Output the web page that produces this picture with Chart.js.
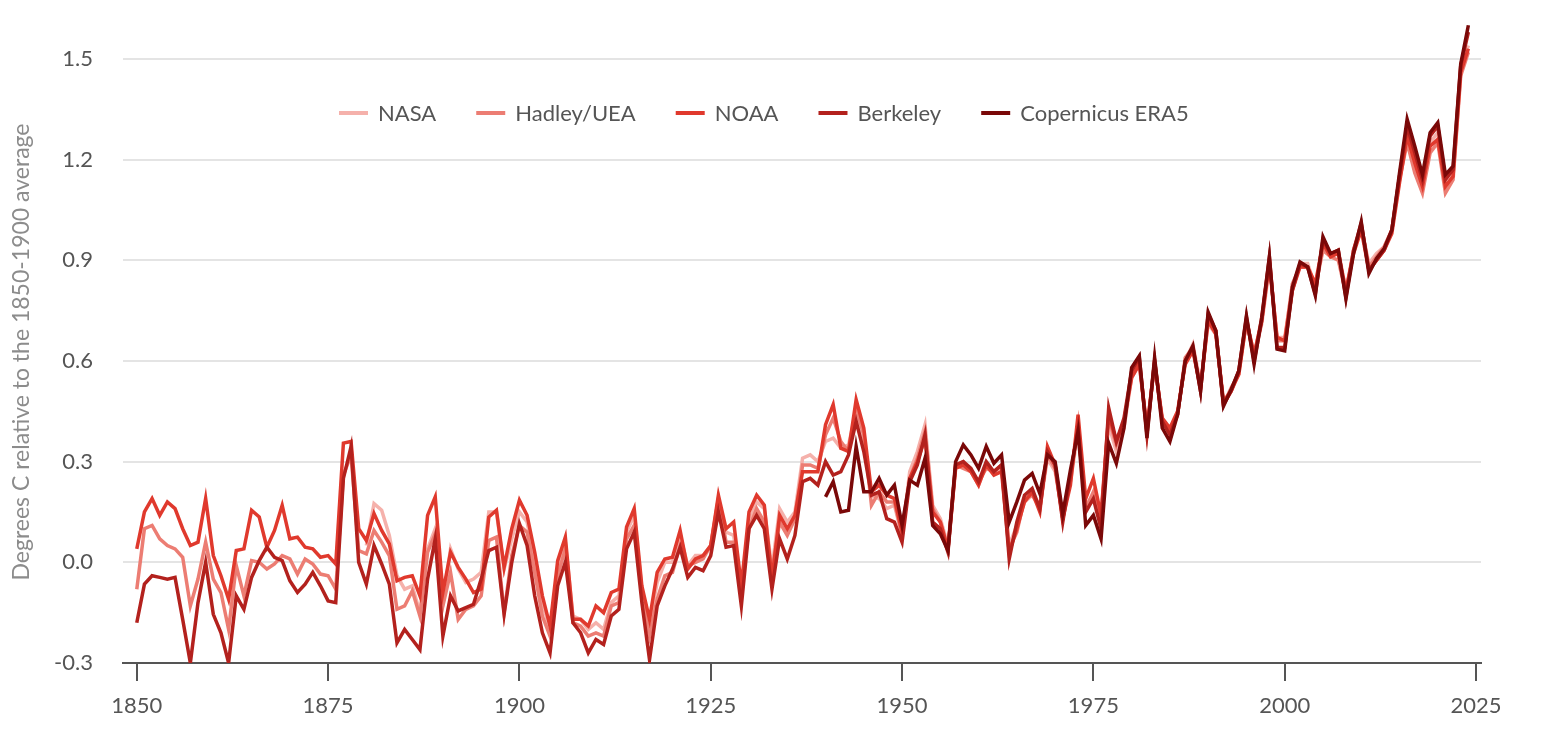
<!DOCTYPE html>
<html>
<head>
<meta charset="utf-8">
<script src="https://cdn.jsdelivr.net/npm/chart.js@4/dist/chart.umd.min.js"></script>
<style>
  html, body { margin: 0; padding: 0; background: #ffffff; }
  #wrap { width: 1562px; height: 738px; position: relative; }
</style>
</head>
<body>
<div id="wrap"><canvas id="c"></canvas></div>
<script>
// ---- categories ----
const years = Array.from({ length: 175 }, (_, i) => 1850 + i); // 1850..2024
const nasaStart = 1880;
const eraStart = 1940;

// ---- tick labels ----
const xTicks = [1850, 1875, 1900, 1925, 1950, 1975, 2000, 2025];
const yTicks = [-0.3, 0.0, 0.3, 0.6, 0.9, 1.2, 1.5];
const yTitle = 'Degrees C relative to the 1850-1900 average';

// ---- series (°C relative to 1850-1900) ----
const noaa = [
  0.04, 0.15, 0.19, 0.14, 0.18, 0.16, 0.10, 0.05, 0.06, 0.19,
  0.02, -0.04, -0.11, 0.035, 0.04, 0.155, 0.135, 0.045, 0.095, 0.17,
  0.07, 0.075, 0.045, 0.04, 0.015, 0.02, -0.005, 0.355, 0.36, 0.10,
  0.065, 0.145, 0.095, 0.055, -0.055, -0.045, -0.04, -0.10, 0.14, 0.195,
  -0.09, 0.03, -0.015, -0.05, -0.09, -0.08, 0.135, 0.155, -0.015, 0.10,
  0.185, 0.14, 0.03, -0.10, -0.19, 0.005, 0.075, -0.17, -0.17, -0.19,
  -0.13, -0.15, -0.09, -0.08, 0.105, 0.16, -0.07, -0.17, -0.03, 0.01,
  0.015, 0.095, -0.02, 0.01, 0.02, 0.05, 0.20, 0.10, 0.12, -0.07,
  0.15, 0.20, 0.17, -0.05, 0.14, 0.10, 0.14, 0.27, 0.27, 0.27,
  0.41, 0.47, 0.34, 0.33, 0.485, 0.40, 0.21, 0.23, 0.20, 0.19,
  0.09, 0.25, 0.30, 0.37, 0.15, 0.12, 0.04, 0.28, 0.29, 0.27,
  0.23, 0.29, 0.26, 0.27, 0.03, 0.10, 0.18, 0.21, 0.15, 0.345,
  0.29, 0.13, 0.23, 0.44, 0.19, 0.25, 0.14, 0.44, 0.36, 0.42,
  0.55, 0.59, 0.40, 0.59, 0.43, 0.40, 0.45, 0.59, 0.63, 0.52,
  0.72, 0.68, 0.48, 0.51, 0.56, 0.72, 0.62, 0.72, 0.89, 0.67,
  0.66, 0.81, 0.88, 0.88, 0.83, 0.95, 0.91, 0.92, 0.81, 0.92,
  0.99, 0.87, 0.90, 0.93, 0.98, 1.13, 1.27, 1.19, 1.12, 1.24,
  1.26, 1.12, 1.15, 1.46, 1.53
];
const hadley = [
  -0.08, 0.10, 0.11, 0.07, 0.05, 0.04, 0.015, -0.13, -0.05, 0.06,
  -0.05, -0.09, -0.20, -0.01, -0.10, 0.005, 0.0, -0.02, -0.005, 0.02,
  0.01, -0.035, 0.01, -0.005, -0.035, -0.04, -0.08, 0.26, 0.32, 0.035,
  0.025, 0.095, 0.06, 0.02, -0.14, -0.13, -0.085, -0.16, 0.03, 0.085,
  -0.13, -0.03, -0.17, -0.14, -0.13, -0.10, 0.065, 0.075, -0.15, 0.02,
  0.11, 0.09, -0.03, -0.16, -0.22, -0.04, 0.04, -0.18, -0.19, -0.22,
  -0.21, -0.22, -0.13, -0.12, 0.07, 0.11, -0.10, -0.22, -0.11, -0.04,
  -0.03, 0.05, -0.01, 0.0, 0.01, 0.05, 0.19, 0.06, 0.06, -0.08,
  0.10, 0.16, 0.12, -0.03, 0.12, 0.08, 0.13, 0.29, 0.29, 0.28,
  0.38, 0.43, 0.36, 0.33, 0.46, 0.38, 0.17, 0.21, 0.18, 0.18,
  0.08, 0.25, 0.31, 0.39, 0.16, 0.12, 0.04, 0.29, 0.28, 0.27,
  0.24, 0.28, 0.27, 0.29, 0.04, 0.09, 0.19, 0.20, 0.17, 0.32,
  0.28, 0.13, 0.25, 0.41, 0.16, 0.21, 0.13, 0.43, 0.35, 0.42,
  0.56, 0.60, 0.39, 0.60, 0.42, 0.39, 0.44, 0.61, 0.64, 0.52,
  0.73, 0.69, 0.47, 0.52, 0.56, 0.72, 0.61, 0.73, 0.90, 0.66,
  0.66, 0.83, 0.88, 0.88, 0.82, 0.93, 0.91, 0.90, 0.80, 0.93,
  1.00, 0.88, 0.91, 0.94, 0.99, 1.14, 1.25, 1.16, 1.10, 1.22,
  1.25, 1.10, 1.14, 1.45, 1.52
];
const nasa = [ // from 1880
  0.05, 0.175, 0.155, 0.08, -0.04, -0.08, -0.07, -0.15, 0.04, 0.10,
  -0.12, 0.04, -0.02, -0.06, -0.05, -0.03, 0.15, 0.15, -0.02, 0.07,
  0.15, 0.12, 0.01, -0.12, -0.20, -0.02, 0.06, -0.16, -0.17, -0.20,
  -0.18, -0.20, -0.12, -0.10, 0.09, 0.14, -0.08, -0.18, -0.06, 0.0,
  0.0, 0.08, -0.01, 0.02, 0.02, 0.05, 0.18, 0.09, 0.08, -0.08,
  0.12, 0.18, 0.16, -0.02, 0.16, 0.12, 0.15, 0.31, 0.32, 0.30,
  0.36, 0.37, 0.34, 0.35, 0.45, 0.36, 0.20, 0.19, 0.16, 0.17,
  0.08, 0.27, 0.33, 0.41, 0.17, 0.13, 0.05, 0.29, 0.30, 0.27,
  0.23, 0.29, 0.26, 0.28, 0.05, 0.11, 0.18, 0.20, 0.16, 0.31,
  0.27, 0.14, 0.24, 0.39, 0.17, 0.20, 0.14, 0.41, 0.33, 0.40,
  0.55, 0.59, 0.39, 0.60, 0.41, 0.39, 0.44, 0.60, 0.65, 0.53,
  0.71, 0.68, 0.47, 0.51, 0.57, 0.72, 0.62, 0.71, 0.88, 0.67,
  0.67, 0.82, 0.89, 0.89, 0.82, 0.95, 0.91, 0.93, 0.81, 0.93,
  1.00, 0.89, 0.92, 0.94, 0.99, 1.15, 1.29, 1.19, 1.12, 1.25,
  1.28, 1.13, 1.16, 1.47, 1.54
];
const berkeley = [
  -0.18, -0.065, -0.04, -0.045, -0.05, -0.045, -0.17, -0.30, -0.12, 0.0,
  -0.155, -0.21, -0.30, -0.10, -0.14, -0.045, 0.005, 0.045, 0.015, 0.005,
  -0.055, -0.09, -0.065, -0.03, -0.07, -0.115, -0.12, 0.25, 0.345, 0.0,
  -0.065, 0.05, -0.005, -0.065, -0.24, -0.20, -0.23, -0.26, -0.05, 0.07,
  -0.22, -0.10, -0.145, -0.135, -0.125, -0.05, 0.035, 0.045, -0.155, 0.0,
  0.115, 0.05, -0.10, -0.21, -0.27, -0.07, 0.0, -0.18, -0.21, -0.27,
  -0.23, -0.245, -0.16, -0.14, 0.04, 0.09, -0.12, -0.29, -0.13, -0.07,
  -0.02, 0.045, -0.045, -0.015, -0.025, 0.02, 0.15, 0.045, 0.05, -0.13,
  0.10, 0.14, 0.10, -0.08, 0.07, 0.01, 0.08, 0.24, 0.25, 0.23,
  0.30, 0.26, 0.27, 0.32, 0.42, 0.33, 0.20, 0.21, 0.13, 0.12,
  0.06, 0.24, 0.29, 0.38, 0.12, 0.10, 0.03, 0.29, 0.30, 0.28,
  0.24, 0.30, 0.27, 0.29, 0.01, 0.12, 0.20, 0.22, 0.16, 0.33,
  0.29, 0.12, 0.26, 0.40, 0.15, 0.19, 0.10, 0.46, 0.36, 0.43,
  0.57, 0.61, 0.38, 0.60, 0.42, 0.38, 0.44, 0.60, 0.64, 0.51,
  0.74, 0.69, 0.47, 0.51, 0.57, 0.73, 0.60, 0.72, 0.91, 0.64,
  0.64, 0.81, 0.89, 0.88, 0.80, 0.96, 0.92, 0.93, 0.79, 0.93,
  1.01, 0.87, 0.90, 0.93, 0.99, 1.15, 1.30, 1.22, 1.14, 1.27,
  1.30, 1.14, 1.17, 1.48, 1.58
];
const era5 = [ // from 1940
  0.195, 0.24, 0.15, 0.155, 0.345, 0.21, 0.21, 0.25, 0.20, 0.23,
  0.11, 0.245, 0.23, 0.31, 0.11, 0.085, 0.035, 0.30, 0.35, 0.32,
  0.28, 0.345, 0.295, 0.32, 0.12, 0.18, 0.245, 0.265, 0.205, 0.32,
  0.30, 0.145, 0.275, 0.39, 0.11, 0.14, 0.07, 0.355, 0.295, 0.40,
  0.58, 0.615, 0.37, 0.61, 0.40, 0.36, 0.44, 0.60, 0.645, 0.51,
  0.745, 0.69, 0.465, 0.515, 0.57, 0.735, 0.59, 0.73, 0.91, 0.635,
  0.63, 0.82, 0.895, 0.88, 0.795, 0.97, 0.92, 0.93, 0.785, 0.92,
  1.015, 0.86, 0.905, 0.935, 0.99, 1.16, 1.32, 1.24, 1.155, 1.28,
  1.31, 1.155, 1.18, 1.485, 1.60
];

const seriesNames = ['NASA', 'Hadley/UEA', 'NOAA', 'Berkeley', 'Copernicus ERA5'];
const seriesColors = ['#f5b1ab', '#ec7d73', '#e0392d', '#b3211d', '#7a0808'];

function pts(startYear, vals) {
  return vals.map((v, i) => ({ x: startYear + i, y: v }));
}
const seriesData = [
  pts(nasaStart, nasa),
  pts(years[0], hadley),
  pts(years[0], noaa),
  pts(years[0], berkeley),
  pts(eraStart, era5)
];

const FONT = 'Lato, "Open Sans", sans-serif';

// legend drawn inside the plot area + rotated y-axis title
const overlayText = {
  id: 'overlayText',
  afterDatasetsDraw(chart) {
    const ctx = chart.ctx;
    ctx.save();
    ctx.font = '22px ' + FONT;
    ctx.textBaseline = 'middle';
    ctx.textAlign = 'left';
    let x = 339;
    const y = 113;
    const lineW = 29, gapText = 10, gapItem = 40;
    chart.data.datasets.forEach((ds) => {
      ctx.strokeStyle = ds.borderColor;
      ctx.lineWidth = 4;
      ctx.beginPath();
      ctx.moveTo(x, y);
      ctx.lineTo(x + lineW, y);
      ctx.stroke();
      x += lineW + gapText;
      ctx.fillStyle = '#555555';
      ctx.fillText(ds.label, x, y + 1);
      x += ctx.measureText(ds.label).width + gapItem;
    });
    ctx.restore();

    ctx.save();
    ctx.translate(22, 352);
    ctx.rotate(-Math.PI / 2);
    ctx.font = '23px ' + FONT;
    ctx.fillStyle = '#8c8c8c';
    ctx.textAlign = 'center';
    ctx.textBaseline = 'middle';
    ctx.fillText(yTitle, 0, 0);
    ctx.restore();
  }
};

new Chart(document.getElementById('c'), {
  type: 'line',
  data: {
    datasets: seriesNames.map((name, i) => ({
      label: name,
      data: seriesData[i],
      borderColor: seriesColors[i],
      backgroundColor: seriesColors[i],
      borderWidth: 3.5,
      pointRadius: 0,
      pointHoverRadius: 0,
      tension: 0,
      fill: false,
      order: seriesNames.length - i
    }))
  },
  options: {
    responsive: true,
    maintainAspectRatio: false,
    animation: false,
    devicePixelRatio: 1,
    layout: { padding: { top: 0, right: 81, bottom: 6.6, left: 0 } },
    plugins: {
      legend: { display: false },
      tooltip: { enabled: false }
    },
    scales: {
      x: {
        type: 'linear',
        min: 1848.2,
        max: 2025.65,
        afterBuildTicks: (axis) => { axis.ticks = xTicks.map(v => ({ value: v })); },
        grid: {
          drawOnChartArea: false,
          drawTicks: true,
          tickLength: 18,
          color: '#555555',
          lineWidth: 2
        },
        border: { display: true, color: '#555555', width: 2 },
        ticks: {
          padding: 12,
          color: '#555555',
          font: { family: FONT, size: 22 },
          maxRotation: 0,
          callback: (v) => String(v)
        }
      },
      y: {
        type: 'linear',
        min: -0.3,
        max: 1.636,
        afterBuildTicks: (axis) => { axis.ticks = yTicks.map(v => ({ value: v })); },
        afterFit: (scale) => { scale.width = 123; },
        grid: {
          drawTicks: true,
          tickLength: 30,
          tickColor: 'rgba(0,0,0,0)',
          color: '#e4e4e4',
          lineWidth: 2
        },
        border: { display: false },
        ticks: {
          padding: 0,
          color: '#555555',
          font: { family: FONT, size: 22 },
          callback: (v) => Number(v).toFixed(1)
        }
      }
    }
  },
  plugins: [overlayText]
});
</script>
</body>
</html>
